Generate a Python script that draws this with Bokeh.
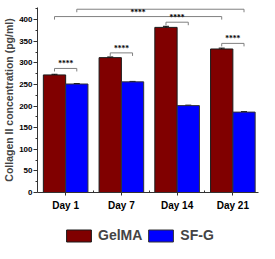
from bokeh.plotting import figure
from bokeh.layouts import column
from bokeh.models import (ColumnDataSource, FixedTicker, Range1d, Legend, LegendItem,
                          Whisker, TeeHead, LabelSet)
from bokeh.embed import file_html
from bokeh.resources import INLINE

days = ["Day 1", "Day 7", "Day 14", "Day 21"]
series = ["GelMA", "SF-G"]
gelma = [272, 312, 382, 332]
sfg = [251, 256, 201, 186]
gelma_err = [1.5, 1.5, 2.5, 2.0]
sfg_err = [1.0, 1.0, 1.0, 1.0]
# significance comparisons: (day index a, series a, day index b, series b, bracket level)
comp_a_day = [0, 1, 2, 3, 0, 0]
comp_a_ser = [0, 0, 0, 0, 0, 1]
comp_b_day = [0, 1, 2, 3, 3, 3]
comp_b_ser = [1, 1, 1, 1, 0, 1]
comp_level = [287, 323, 394, 345, 407, 424]
comp_text = ["****"] * 6

FONT = "Liberation Sans"
COLORS = ["#800000", "#0000FF"]
OUTLINES = ["#1a1a1a", "#333333"]
BW = 0.4
xs = [i + 1 for i in range(len(days))]
x_g = [x - BW / 2 for x in xs]
x_s = [x + BW / 2 for x in xs]

p = figure(width=259, height=222, output_backend="svg", toolbar_location=None,
           x_range=Range1d(0.495, 4.46), y_range=Range1d(0, 428),
           min_border_left=31, min_border_right=1, min_border_top=7, min_border_bottom=30)
p.outline_line_color = None
p.grid.visible = False
p.background_fill_color = "white"

src = ColumnDataSource(dict(xg=x_g, xs=x_s, g=gelma, s=sfg,
                            gu=[v + e for v, e in zip(gelma, gelma_err)],
                            gl=[v - e for v, e in zip(gelma, gelma_err)],
                            su=[v + e for v, e in zip(sfg, sfg_err)],
                            sl=[v - e for v, e in zip(sfg, sfg_err)]))
p.vbar(x="xg", top="g", width=BW, source=src, fill_color=COLORS[0], line_color=OUTLINES[0], line_width=1)
p.vbar(x="xs", top="s", width=BW, source=src, fill_color=COLORS[1], line_color=OUTLINES[1], line_width=1)
for base, up, lo in (("xg", "gu", "gl"), ("xs", "su", "sl")):
    w = Whisker(base=base, upper=up, lower=lo, source=src, line_color="black", line_width=1,
                upper_head=TeeHead(size=6, line_color="black"), lower_head=TeeHead(size=6, line_color="black"))
    p.add_layout(w)

# significance brackets
centers = [x_g, x_s]
bx, by, lx, ly = [], [], [], []
d = 7
for a, sa, b, sb, h in zip(comp_a_day, comp_a_ser, comp_b_day, comp_b_ser, comp_level):
    x1 = centers[sa][a]
    x2 = centers[sb][b]
    bx.append([x1, x1, x2, x2])
    by.append([h - d, h, h, h - d])
    lx.append((x1 + x2) / 2)
    ly.append(h)
p.multi_line(bx, by, line_color="#808080", line_width=1)
lsrc = ColumnDataSource(dict(x=lx, y=ly, t=comp_text))
p.add_layout(LabelSet(x="x", y="y", text="t", source=lsrc, text_align="center", text_baseline="bottom",
                      y_offset=0, text_font=FONT, text_font_size="7.5px", text_font_style="bold",
                      text_color="black"))

# axes
p.xaxis.ticker = FixedTicker(ticks=xs, minor_ticks=[1.5, 2.5, 3.5])
p.xaxis.major_label_overrides = {x: d_ for x, d_ in zip(xs, days)}
p.yaxis.ticker = FixedTicker(ticks=list(range(0, 401, 50)), minor_ticks=list(range(25, 426, 50)))
for ax in (p.xaxis, p.yaxis):
    ax.axis_line_color = "#333333"
    ax.major_tick_line_color = "#333333"
    ax.minor_tick_line_color = "#333333"
    ax.major_label_text_font = FONT
    ax.major_label_text_font_style = "bold"
    ax.major_label_text_color = "black"
p.xaxis.major_tick_in = 0
p.xaxis.major_tick_out = 3
p.xaxis.minor_tick_in = 2
p.xaxis.minor_tick_out = 0
p.xaxis.major_label_text_font_size = "10px"
p.xaxis.major_label_standoff = 4
p.yaxis.major_tick_in = 0
p.yaxis.major_tick_out = 4
p.yaxis.minor_tick_in = 0
p.yaxis.minor_tick_out = 2
p.yaxis.major_label_text_font_size = "8px"
p.yaxis.major_label_standoff = 1
p.yaxis.axis_label = "Collagen II concentration (pg/ml)"
p.yaxis.axis_label_text_font = FONT
p.yaxis.axis_label_text_font_style = "bold"
p.yaxis.axis_label_text_font_size = "10.5px"
p.yaxis.axis_label_standoff = 1

# legend strip below the chart
pl = figure(width=259, height=21, output_backend="svg", toolbar_location=None,
            x_range=Range1d(0, 1), y_range=Range1d(0, 1), x_axis_type=None, y_axis_type=None,
            min_border=0, min_border_left=0, min_border_right=0, min_border_top=0, min_border_bottom=0)
pl.grid.visible = False
pl.outline_line_color = None
items = []
for name, c, oc in zip(series, COLORS, OUTLINES):
    # zero-size proxy glyph: only its style is used by the legend
    r = pl.vbar(x=[0.5], top=[0], bottom=[0], width=0, fill_color=c, line_color=oc, line_width=1)
    items.append(LegendItem(label=name, renderers=[r]))
legend = Legend(items=items, orientation="horizontal", location=(26, 0), glyph_width=31, glyph_height=15,
                label_standoff=4, spacing=3, padding=0, margin=0, border_line_color=None,
                background_fill_alpha=0, label_text_font=FONT, label_text_font_style="bold",
                label_text_font_size="14px", label_height=15)
pl.add_layout(legend, "center")

layout = column(p, pl, spacing=0)
open("out.html", "w").write(file_html(layout, INLINE))
